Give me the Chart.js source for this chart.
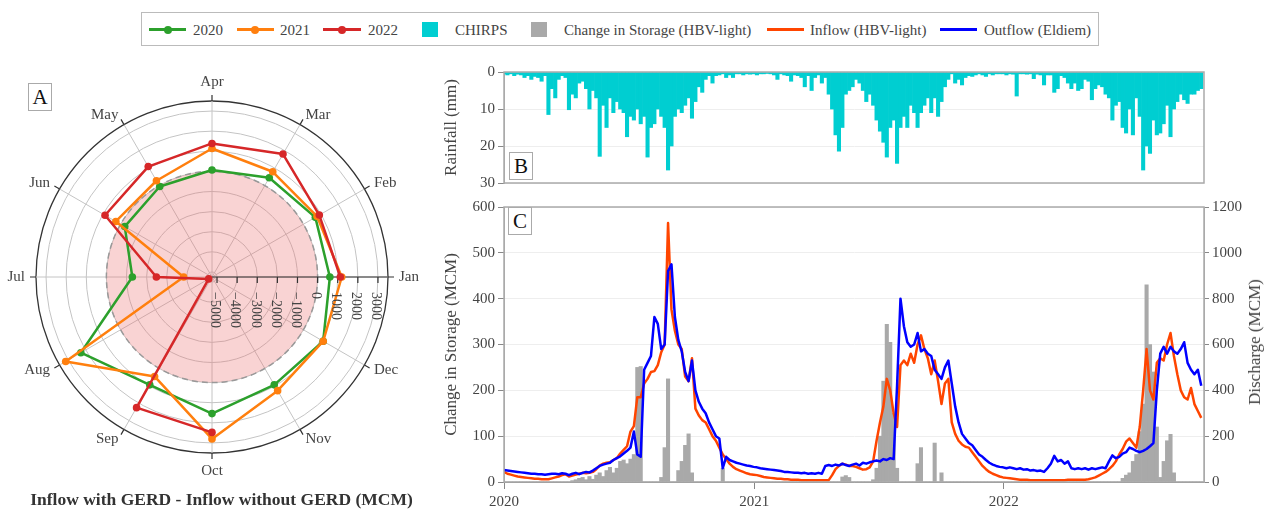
<!DOCTYPE html>
<html>
<head>
<meta charset="utf-8">
<script src="https://cdn.jsdelivr.net/npm/chart.js@4.4.1/dist/chart.umd.min.js"></script>
<style>
  html, body { margin: 0; padding: 0; background: #fff; }
  body { width: 1264px; height: 511px; position: relative; overflow: hidden;
         font-family: 'Liberation Serif', 'Times New Roman', serif; color: #444; }
  .abs { position: absolute; }
  .legend { left: 141px; top: 12px; width: 958px; height: 34px; border: 1px solid #bbb; box-sizing: border-box; }
  .lg-text { position: absolute; top: 20px; font-size: 15px; line-height: 20px; color: #444; white-space: nowrap; }
  .lg-line { position: absolute; top: 28px; height: 3px; }
  .lg-dot { position: absolute; top: 25.5px; width: 8px; height: 8px; border-radius: 50%; }
  .lg-box { position: absolute; top: 22px; width: 16px; height: 15px; }
  .tag { position: absolute; width: 24px; height: 28px; border: 1px solid #aaa; background: #fff;
         box-sizing: border-box; font-size: 21px; line-height: 27px; text-align: center; color: #111; }
  .caption { left: 0; top: 489px; width: 443px; text-align: center; font-size: 17.5px; font-weight: bold;
             line-height: 20px; color: #333; white-space: nowrap; }
  .rtitle { left: 1255px; top: 342px; font-size: 17px; white-space: nowrap; color: #444;
            transform: translate(-50%, -50%) rotate(-90deg); }
</style>
</head>
<body>

<div class="abs" style="left:0;top:60px"><canvas id="polar" width="424" height="434"></canvas></div>
<div class="abs" style="left:430px;top:60px"><canvas id="rain" width="834" height="135"></canvas></div>
<div class="abs" style="left:430px;top:195px"><canvas id="flows" width="834" height="316"></canvas></div>

<!-- legend -->
<div class="abs legend"></div>
<div class="lg-line" style="left:149px;width:37px;background:#2ca02c"></div>
<div class="lg-dot" style="left:164px;background:#2ca02c"></div>
<div class="lg-text" style="left:193px">2020</div>
<div class="lg-line" style="left:237px;width:37px;background:#ff7f0e"></div>
<div class="lg-dot" style="left:251px;background:#ff7f0e"></div>
<div class="lg-text" style="left:280px">2021</div>
<div class="lg-line" style="left:323px;width:38px;background:#d62728"></div>
<div class="lg-dot" style="left:338px;background:#d62728"></div>
<div class="lg-text" style="left:368px">2022</div>
<div class="lg-box" style="left:422px;background:#00ced1"></div>
<div class="lg-text" style="left:455px">CHIRPS</div>
<div class="lg-box" style="left:531px;background:#a9a9a9"></div>
<div class="lg-text" style="left:564px">Change in Storage (HBV-light)</div>
<div class="lg-line" style="left:767px;width:37px;background:#ff4500"></div>
<div class="lg-text" style="left:810px">Inflow (HBV-light)</div>
<div class="lg-line" style="left:940px;width:37px;background:#0000ff"></div>
<div class="lg-text" style="left:984px">Outflow (Eldiem)</div>

<div class="tag" style="left:28px;top:83px">A</div>
<div class="tag" style="left:509px;top:152px">B</div>
<div class="tag" style="left:508px;top:207px">C</div>
<div class="abs caption">Inflow with GERD - Inflow without GERD (MCM)</div>
<div class="abs rtitle">Discharge (MCM)</div>

<script>
Chart.defaults.font.family = "'Liberation Serif', 'Times New Roman', serif";
Chart.defaults.color = '#444';

// Panel A: monthly inflow difference (MCM), calendar order
const months = ['Jan', 'Feb', 'Mar', 'Apr', 'May', 'Jun', 'Jul', 'Aug', 'Sep', 'Oct', 'Nov', 'Dec'];
const gerd2020 = [610, 683, 445, 70, -55, -240, -1290, 2280, 940, 1540, 940, 1133];
const gerd2021 = [1200, 780, 790, 1140, 275, 270, -3840, 3150, 460, 2800, 1275, 1135];
const gerd2022 = [1130, 910, 1810, 1390, 1090, 890, -2485, -5060, 2250, 2475, null, null];
// radar runs clockwise from the top: Apr, Mar, Feb, Jan, Dec ...
const radarOrder = [3, 2, 1, 0, 11, 10, 9, 8, 7, 6, 5, 4];
const radialTicks = [-5000, -4000, -3000, -2000, -1000, 0, 1000, 2000, 3000, 3500];

// Panels B and C: one value every 5 days from 1 Jan 2020
const stepDays = 5;
const yearTickDays = [0, 366, 731];
const yearTickLabels = ['2020', '2021', '2022'];

// CHIRPS rainfall (mm)
const chirps = [
  0.5, 0.8, 0.5, 1, 0.6, 0.8, 1.5, 1, 2, 1.2,
  1.5, 2.5, 1, 11.5, 4.5, 7, 2, 1, 1.5, 10.2,
  6, 7, 3, 2.5, 4.5, 10, 5, 7, 22.8, 9,
  15, 7, 11, 8, 10, 11, 17.5, 12, 13, 10,
  14, 12, 23, 15, 14, 10, 12, 15, 26.5, 20,
  12, 10, 11, 9, 7, 12.5, 8, 4, 5.5, 2,
  1, 3, 1, 0.8, 0.5, 1.5, 0.8, 1.5, 0.5, 0.5,
  0.8, 0.5, 0.6, 0.5, 0.8, 0.5, 0.5, 0.4, 0.5, 0.8,
  2, 0.5, 0.8, 1, 2.5, 0.8, 1, 1.5, 4, 1,
  5, 1.5, 0.8, 3, 1.5, 6, 10, 17, 21.4, 15,
  6, 5, 4, 2, 3, 5, 8, 6, 9, 13,
  16, 19, 23, 15, 13, 24.7, 15, 12, 15, 9,
  11, 15, 11, 9, 7, 11, 7, 12, 8, 4,
  2, 0.5, 3, 2, 3.5, 1.5, 1, 1.2, 0.8, 0.5,
  0.8, 1.2, 0.5, 0.8, 0.5, 0.5, 0.5, 0.8, 0.5, 0.6,
  6.5, 0.5, 0.5, 0.6, 0.5, 1.8, 0.6, 0.8, 3.5, 0.8,
  0.8, 5.5, 4.5, 1, 1.5, 3, 4.5, 3, 5, 4.5,
  2, 2.5, 7.5, 4.5, 3.5, 4, 6, 7, 13, 9,
  8, 15, 16.5, 10, 17, 7, 12, 26.5, 20, 22,
  13, 17, 16.5, 14, 9, 17.5, 10, 8, 6, 7.5,
  8.5, 6, 6, 5, 4.5
];

// Change in storage, HBV-light (MCM)
const storageChange = [
  0, 0, 0, 0, 0, 0, 0, 0, 0, 0,
  0, 0, 0, 0, 0, 0, 0, 0, 0, 0,
  3, 5, 8, 10, 5, 12, 6, 15, 20, 12,
  25, 32, 20, 30, 45, 48, 40, 50, 60, 250,
  252, 0, 0, 0, 0, 0, 10, 75, 225, 0,
  0, 25, 45, 80, 105, 20, 0, 0, 0, 0,
  0, 0, 0, 0, 30, 0, 0, 0, 0, 0,
  0, 0, 0, 0, 0, 0, 0, 0, 0, 0,
  0, 0, 0, 0, 0, 0, 0, 0, 0, 0,
  0, 0, 0, 0, 0, 0, 0, 0, 0, 11,
  14, 10, 0, 0, 0, 0, 0, 0, 5, 30,
  100, 220, 344, 305, 150, 30, 0, 0, 0, 0,
  0, 40, 75, 0, 0, 0, 85, 0, 20, 0,
  0, 0, 0, 0, 0, 0, 0, 0, 0, 0,
  0, 0, 0, 0, 0, 0, 0, 0, 0, 0,
  0, 0, 0, 0, 0, 0, 0, 0, 0, 0,
  0, 0, 0, 0, 0, 0, 0, 0, 0, 0,
  0, 0, 0, 0, 0, 0, 0, 0, 0, 0,
  0, 8, 15, 20, 45, 60, 110, 170, 430, 300,
  240, 120, 10, 45, 90, 104, 20, 0, 0, 0,
  0, 0, 0, 0, 0
];

// Inflow, HBV-light (MCM)
const inflowHbv = [
  44, 36, 32, 28, 24, 22, 20, 18, 16, 14,
  14, 12, 12, 12, 16, 20, 24, 30, 34, 24,
  28, 32, 36, 40, 38, 40, 44, 56, 72, 80,
  84, 86, 96, 104, 124, 140, 156, 220, 244, 370,
  370, 430, 450, 480, 484, 510, 566, 600, 1130, 752,
  660, 600, 580, 460, 440, 540, 320, 290, 270, 260,
  230, 200, 180, 150, 120, 100, 80, 66, 56, 50,
  44, 38, 34, 32, 30, 26, 22, 20, 18, 16,
  14, 14, 12, 12, 10, 10, 10, 8, 8, 8,
  8, 8, 8, 8, 8, 8, 30, 56, 70, 80,
  76, 70, 70, 66, 60, 54, 56, 64, 90, 180,
  260, 330, 450, 400, 300, 240, 510, 530, 510, 560,
  520, 600, 640, 580, 540, 470, 530, 440, 340, 430,
  450, 260, 210, 180, 164, 154, 150, 130, 110, 90,
  70, 56, 44, 36, 30, 24, 20, 18, 16, 14,
  12, 10, 10, 10, 8, 8, 8, 8, 8, 8,
  8, 8, 8, 8, 8, 10, 10, 10, 10, 10,
  10, 12, 16, 20, 28, 36, 44, 56, 70, 90,
  120, 144, 176, 190, 170, 150, 240, 400, 580, 400,
  360, 520, 540, 530, 600, 650, 550, 470, 400, 370,
  360, 410, 340, 310, 280
];

// Outflow, Eldiem (MCM)
const outflowEldiem = [
  52, 50, 48, 46, 44, 42, 40, 38, 36, 36,
  34, 34, 32, 34, 36, 36, 34, 38, 36, 30,
  36, 40, 34, 40, 44, 42, 50, 60, 70, 76,
  80, 84, 96, 104, 112, 124, 136, 150, 220, 120,
  110, 490, 520, 550, 720, 690, 580, 600, 920, 950,
  720, 620, 570, 480, 440, 530, 400, 350, 320, 300,
  260, 230, 200, 190, 60, 110, 96, 90, 84, 80,
  76, 72, 70, 66, 64, 60, 58, 56, 54, 52,
  50, 48, 44, 44, 42, 40, 40, 38, 40, 36,
  38, 36, 40, 36, 70, 74, 70, 76, 72, 80,
  74, 70, 76, 80, 72, 84, 80, 86, 90, 94,
  90, 100, 96, 104, 100, 420, 800, 680, 610, 590,
  600, 650, 570, 580, 560, 550, 490, 470, 450, 500,
  530, 430, 330, 260, 210, 190, 170, 160, 140, 120,
  110, 96, 84, 76, 70, 66, 64, 60, 64, 60,
  56, 60, 54, 56, 50, 52, 48, 50, 44, 60,
  80, 114, 90, 96, 80, 90, 60, 56, 60, 56,
  60, 54, 60, 56, 60, 64, 60, 90, 116, 104,
  110, 124, 130, 150, 144, 136, 130, 136, 144, 156,
  170, 400, 560, 590, 560, 590, 570, 560, 580, 610,
  520, 490, 470, 490, 420
];

const toXY = arr => arr.map((v, i) => ({ x: i * stepDays, y: v }));
const tickFont = { size: 15 };
const titleFont = { size: 17 };

// ---------- Panel A ----------
const polarDecor = {
  id: 'polarDecor',
  beforeDatasetsDraw(chart) {
    const r = chart.scales.r, ctx = chart.ctx;
    const cx = r.xCenter, cy = r.yCenter, outer = r.drawingArea;
    const r0 = r.getDistanceFromCenterForValue(0);
    ctx.save();
    // negative zone
    ctx.fillStyle = 'rgba(235,110,110,0.3)';
    ctx.beginPath();
    ctx.arc(cx, cy, r0, 0, Math.PI * 2);
    ctx.fill();
    ctx.setLineDash([6, 4]);
    ctx.strokeStyle = '#999';
    ctx.lineWidth = 1.5;
    ctx.stroke();
    ctx.setLineDash([]);
    // radial axis along Jan
    ctx.strokeStyle = '#333';
    ctx.lineWidth = 1.2;
    ctx.beginPath();
    ctx.moveTo(cx, cy);
    ctx.lineTo(cx + outer + 6, cy);
    radialTicks.slice(0, -1).forEach(v => {
      const x = cx + r.getDistanceFromCenterForValue(v);
      ctx.moveTo(x, cy);
      ctx.lineTo(x, cy + 6);
    });
    // outer month ticks
    for (let i = 0; i < chart.data.labels.length; i++) {
      const p1 = r.getPointPosition(i, outer);
      const p2 = r.getPointPosition(i, outer + 6);
      ctx.moveTo(p1.x, p1.y);
      ctx.lineTo(p2.x, p2.y);
    }
    ctx.stroke();
    ctx.restore();
  },
  afterDraw(chart) {
    const r = chart.scales.r, ctx = chart.ctx;
    const cx = r.xCenter, cy = r.yCenter, outer = r.drawingArea;
    ctx.save();
    ctx.fillStyle = '#444';
    ctx.font = "15px 'Liberation Serif', serif";
    chart.data.labels.forEach((lab, i) => {
      const p = r.getPointPosition(i, outer + 11);
      const dx = p.x - cx, dy = p.y - cy;
      if (Math.abs(dx) < 2) {
        ctx.textAlign = 'center';
        ctx.textBaseline = dy < 0 ? 'bottom' : 'top';
      } else {
        ctx.textAlign = dx > 0 ? 'left' : 'right';
        ctx.textBaseline = 'middle';
      }
      ctx.fillText(lab, p.x, p.y);
    });
    ctx.font = "14px 'Liberation Serif', serif";
    ctx.textAlign = 'left';
    ctx.textBaseline = 'middle';
    radialTicks.slice(0, -1).forEach(v => {
      const x = cx + r.getDistanceFromCenterForValue(v) - 2;
      const txt = v < 0 ? '\u2212' + Math.abs(v) : String(v);
      ctx.save();
      ctx.translate(x, cy + 15);
      ctx.rotate(Math.PI / 2);
      ctx.fillText(txt, 0, 0);
      ctx.restore();
    });
    ctx.restore();
  }
};

new Chart(document.getElementById('polar'), {
  type: 'radar',
  data: {
    labels: radarOrder.map(i => months[i]),
    datasets: [
      { label: '2020', data: radarOrder.map(i => gerd2020[i]), borderColor: '#2ca02c', backgroundColor: '#2ca02c', fill: false, order: 3 },
      { label: '2021', data: radarOrder.map(i => gerd2021[i]), borderColor: '#ff7f0e', backgroundColor: '#ff7f0e', fill: false, order: 2 },
      { label: '2022', data: radarOrder.map(i => gerd2022[i]), borderColor: '#d62728', backgroundColor: '#d62728', fill: false, order: 1 }
    ]
  },
  options: {
    responsive: false,
    animation: false,
    layout: { padding: { left: 36, right: 36, top: 41, bottom: 41 } },
    plugins: { legend: { display: false }, tooltip: { enabled: false } },
    elements: {
      line: { borderWidth: 2.5, tension: 0, borderJoinStyle: 'round' },
      point: { radius: 3.8, borderWidth: 0, hoverRadius: 3.8 }
    },
    scales: {
      r: {
        min: -5250,
        max: 3500,
        afterBuildTicks: s => { s.ticks = radialTicks.map(v => ({ value: v })); },
        ticks: { display: false },
        pointLabels: { display: false },
        grid: {
          circular: true,
          color: c => (c.tick && c.tick.value === 3500) ? '#333' : '#c4c4c4',
          lineWidth: c => (c.tick && c.tick.value === 3500) ? 1.3 : 1
        },
        angleLines: { color: '#c4c4c4', lineWidth: 1 }
      }
    }
  },
  plugins: [polarDecor]
});

// ---------- Panels B and C ----------
const frame = {
  id: 'frame',
  afterDatasetsDraw(chart) {
    const a = chart.chartArea, ctx = chart.ctx;
    ctx.save();
    ctx.strokeStyle = '#aaa';
    ctx.lineWidth = 1.5;
    ctx.strokeRect(a.left, a.top, a.right - a.left, a.bottom - a.top);
    ctx.restore();
  }
};

new Chart(document.getElementById('rain'), {
  type: 'bar',
  data: {
    datasets: [{
      label: 'CHIRPS',
      data: toXY(chirps),
      backgroundColor: '#00ced1',
      borderWidth: 0,
      barPercentage: 1,
      categoryPercentage: 1
    }]
  },
  options: {
    responsive: false,
    animation: false,
    layout: { padding: { top: 12, right: 60, bottom: 8, left: 0 } },
    plugins: { legend: { display: false }, tooltip: { enabled: false } },
    scales: {
      x: { type: 'linear', min: 0, max: 1024, offset: false, display: false, grid: { offset: false } },
      y: {
        reverse: true, min: 0, max: 30,
        ticks: { stepSize: 10, font: tickFont, color: '#444', padding: 3 },
        grid: { color: '#eee', tickColor: '#888', tickLength: 6 },
        border: { color: '#aaa' },
        title: { display: true, text: 'Rainfall (mm)', font: titleFont, color: '#444', padding: { top: 11 } },
        afterFit: s => { s.width = 74; }
      }
    }
  },
  plugins: [frame]
});

new Chart(document.getElementById('flows'), {
  type: 'bar',
  data: {
    datasets: [
      { type: 'line', label: 'Outflow (Eldiem)', data: toXY(outflowEldiem), yAxisID: 'yR',
        borderColor: '#0000ff', borderWidth: 2.5, pointRadius: 0, tension: 0, borderJoinStyle: 'round', order: 1 },
      { type: 'line', label: 'Inflow (HBV-light)', data: toXY(inflowHbv), yAxisID: 'yR',
        borderColor: '#ff4500', borderWidth: 2.5, pointRadius: 0, tension: 0, borderJoinStyle: 'round', order: 2 },
      { type: 'bar', label: 'Change in Storage (HBV-light)', data: toXY(storageChange), yAxisID: 'y',
        backgroundColor: '#a9a9a9', borderWidth: 0, barPercentage: 1, categoryPercentage: 1, order: 3 }
    ]
  },
  options: {
    responsive: false,
    animation: false,
    layout: { padding: { top: 8, right: 0, bottom: 0, left: 0 } },
    plugins: { legend: { display: false }, tooltip: { enabled: false } },
    scales: {
      x: {
        type: 'linear', min: 0, max: 1024, offset: false,
        afterBuildTicks: s => { s.ticks = yearTickDays.map(v => ({ value: v })); },
        ticks: { font: tickFont, color: '#444', padding: 4, maxRotation: 0,
                 callback: v => yearTickLabels[yearTickDays.indexOf(v)] },
        grid: { offset: false, drawOnChartArea: false, tickColor: '#888', tickLength: 7 },
        border: { color: '#888' },
        afterFit: s => { s.height = 29; }
      },
      y: {
        position: 'left', min: 0, max: 600,
        ticks: { stepSize: 100, font: tickFont, color: '#444', padding: 3, callback: v => String(v) },
        grid: { color: '#eee', tickColor: '#888', tickLength: 6 },
        border: { color: '#aaa' },
        title: { display: true, text: 'Change in Storage (MCM)', font: titleFont, color: '#444', padding: { top: 11 } },
        afterFit: s => { s.width = 74; }
      },
      yR: {
        position: 'right', min: 0, max: 1200,
        ticks: { stepSize: 200, font: tickFont, color: '#444', padding: 3, callback: v => String(v) },
        grid: { drawOnChartArea: false, tickColor: '#888', tickLength: 5 },
        border: { color: '#aaa' },
        afterFit: s => { s.width = 60; }
      }
    }
  },
  plugins: [frame]
});
</script>
</body>
</html>
